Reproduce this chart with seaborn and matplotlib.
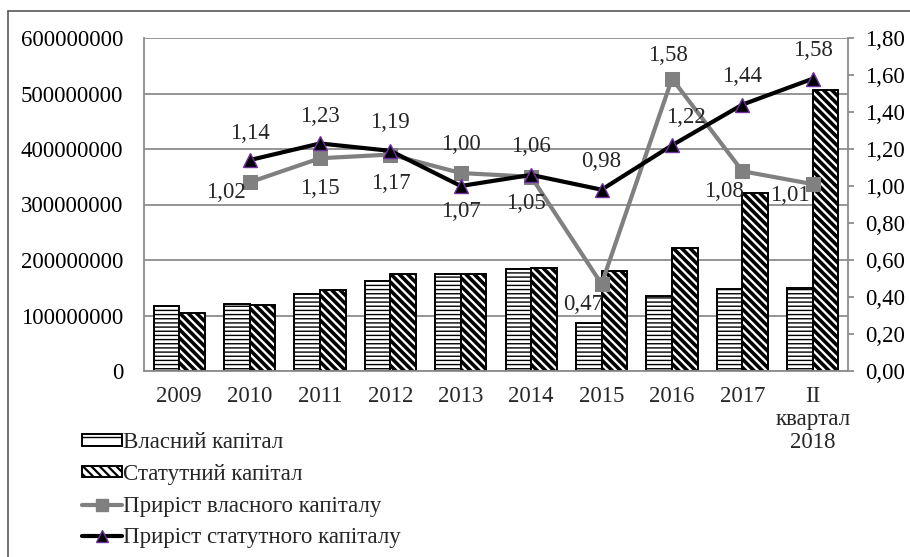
import numpy as np
import pandas as pd
import matplotlib
matplotlib.use("Agg")
import matplotlib.pyplot as plt
from matplotlib.patches import Patch
from matplotlib.lines import Line2D
import seaborn as sns

# ---- data -------------------------------------------------------------
periods = ["2009", "2010", "2011", "2012", "2013", "2014", "2015", "2016",
           "2017", "II\nквартал\n2018"]
own_capital = [117_700_000, 120_000_000, 138_000_000, 162_000_000, 174_000_000,
               183_000_000, 86_000_000, 135_000_000, 147_000_000, 149_000_000]
charter_capital = [104_000_000, 119_000_000, 146_000_000, 174_000_000, 174_000_000,
                   185_000_000, 181_000_000, 221_000_000, 320_000_000, 507_000_000]
growth_periods = periods[1:]
own_growth = [1.02, 1.15, 1.17, 1.07, 1.05, 0.47, 1.58, 1.08, 1.01]
charter_growth = [1.14, 1.23, 1.19, 1.00, 1.06, 0.98, 1.22, 1.44, 1.58]

series_names = ["Власний капітал", "Статутний капітал",
                "Приріст власного капіталу", "Приріст статутного капіталу"]

# label offsets in pixels (dx, dy) for each point's value text
own_label_off = [(-24, -10), (0, -30), (0, -29), (0, -38), (-5, -27),
                 (-18, -20), (-4, 23), (-18, -20), (-23, -11)]
charter_label_off = [(0, 27), (0, 27), (0, 28), (0, 41), (0, 28),
                     (0, 28), (14, 28), (0, 28), (0, 28)]

# ---- style ------------------------------------------------------------
sns.set_theme(style="white")
plt.rcParams["font.family"] = ["Liberation Serif", "DejaVu Serif"]
plt.rcParams["hatch.color"] = "black"
plt.rcParams["hatch.linewidth"] = 1.2
FS = 16.5
GRID = "#8c8c8c"

fig = plt.figure(figsize=(9.10, 5.57), dpi=100)
ax = fig.add_axes([144 / 910, 1 - 371 / 557, (848 - 144) / 910, (371 - 38) / 557])

bars = pd.DataFrame({
    "period": periods * 2,
    "value": own_capital + charter_capital,
    "series": [series_names[0]] * len(periods) + [series_names[1]] * len(periods),
})
sns.barplot(data=bars, x="period", y="value", hue="series", order=periods,
            hue_order=series_names[:2], palette=["white", "white"],
            edgecolor="black", linewidth=1.4, width=0.73, gap=0,
            saturation=1, legend=False, ax=ax)

hatches = ["----", "\\\\\\\\"]
hatch_lw = [1.0, 2.6]
for cont, h, lw in zip(ax.containers, hatches, hatch_lw):
    for p in cont:
        p.set_hatch(h)
        if hasattr(p, "set_hatch_linewidth"):
            p.set_hatch_linewidth(lw)

ax.set_ylim(0, 600_000_000)
ax.set_yticks(np.arange(0, 600_000_001, 100_000_000))
ax.set_yticklabels([f"{int(v)}" for v in np.arange(0, 600_000_001, 100_000_000)])
ax.set_xlim(-0.5, len(periods) - 0.5)
ax.set_xlabel("")
ax.set_ylabel("")
ax.yaxis.grid(True, color=GRID, linewidth=1.3)
ax.set_axisbelow(True)
for s in ["top", "right"]:
    ax.spines[s].set_visible(False)
for s in ["left", "bottom"]:
    ax.spines[s].set_color(GRID)
    ax.spines[s].set_linewidth(1.3)
ax.tick_params(axis="y", length=0, pad=15, labelsize=FS, colors="black")
ax.tick_params(axis="x", which="major", length=0, pad=10.5, labelsize=FS)
ax.set_xticks(np.arange(-0.5, len(periods), 1.0), minor=True)
ax.tick_params(axis="x", which="minor", length=4, width=1.3, color=GRID)
for t in ax.get_xticklabels():
    t.set_linespacing(1.15)
    t.set_verticalalignment("top")

# ---- growth lines on the secondary axis -------------------------------
ax2 = ax.twinx()
pos = [periods.index(p) for p in growth_periods]
sns.lineplot(x=pos, y=own_growth, ax=ax2, color="#808080", linewidth=3,
             marker="s", markersize=10, markeredgecolor="#808080", zorder=3)
sns.lineplot(x=pos, y=charter_growth, ax=ax2, color="black", linewidth=3,
             marker="^", markersize=10, markeredgecolor="#7030a0",
             markeredgewidth=1.0, zorder=4)
ax2.set_ylim(0, 1.8)
ax2.set_yticks(np.arange(0, 1.81, 0.2))
ax2.set_yticklabels([f"{v:.2f}".replace(".", ",") for v in np.arange(0, 1.81, 0.2)])
ax2.set_xlim(-0.5, len(periods) - 0.5)
ax2.grid(False)
for s in ["top", "left", "bottom"]:
    ax2.spines[s].set_visible(False)
ax2.spines["right"].set_color(GRID)
ax2.spines["right"].set_linewidth(1.3)
ax2.tick_params(axis="y", length=4, width=1.3, color=GRID, pad=8,
                labelsize=FS, colors="black")
for t in ax2.get_yticklines():
    t.set_color(GRID)

for x, v, (dx, dy) in zip(pos, own_growth, own_label_off):
    ax2.annotate(f"{v:.2f}".replace(".", ","), (x, v), xytext=(dx, dy),
                 textcoords="offset pixels", ha="center", va="center",
                 fontsize=FS, zorder=6)
for x, v, (dx, dy) in zip(pos, charter_growth, charter_label_off):
    ax2.annotate(f"{v:.2f}".replace(".", ","), (x, v), xytext=(dx, dy),
                 textcoords="offset pixels", ha="center", va="center",
                 fontsize=FS, zorder=6)

# ---- legend -----------------------------------------------------------
handles = [
    Patch(facecolor="white", edgecolor="black", hatch="--", linewidth=1.4),
    Patch(facecolor="white", edgecolor="black", hatch="\\\\\\\\", linewidth=1.4),
    Line2D([], [], color="#808080", linewidth=3, marker="s", markersize=9,
           markeredgecolor="#808080"),
    Line2D([], [], color="black", linewidth=3, marker="^", markersize=9,
           markeredgecolor="#7030a0"),
]
leg = fig.legend(handles, series_names, loc="upper left",
                 bbox_to_anchor=(82 / 910, 1 - 432 / 557), frameon=False,
                 fontsize=FS, handlelength=1.75, handleheight=0.4,
                 handletextpad=0.05, labelspacing=0.47, borderpad=0,
                 borderaxespad=0)
for p in leg.get_patches():
    if hasattr(p, "set_hatch_linewidth"):
        p.set_hatch_linewidth(1.6 if p.get_hatch() == "\\\\\\\\" else 1.0)

# ---- outer frame ------------------------------------------------------
fx, fy = 8 / 910, 1 - 11 / 557
fig.add_artist(Line2D([fx, fx], [0, fy], color="#595959", linewidth=1.2,
                      transform=fig.transFigure))
fig.add_artist(Line2D([fx, 1], [fy, fy], color="#595959", linewidth=1.2,
                      transform=fig.transFigure))

fig.savefig("out.png", dpi=100, facecolor="white")
